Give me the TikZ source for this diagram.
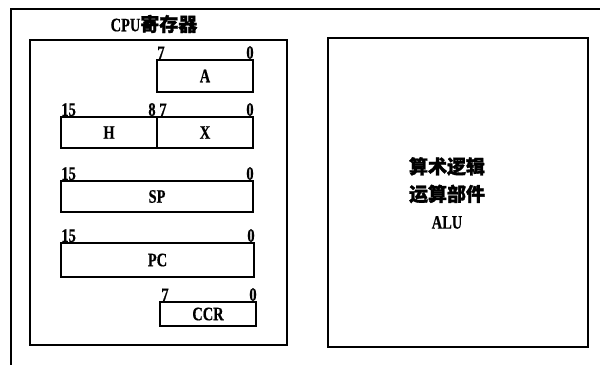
\documentclass[tikz,border=0pt]{standalone}
\usepackage{fontspec}
\setmainfont{Liberation Serif}
\newfontfamily\lab{Liberation Serif Bold}[FakeStretch=0.76, FakeBold=0.6]
\newfontfamily\cjk[FakeBold=1.5]{Noto Sans CJK SC}
\newcommand\cjkbold{\bfseries\cjk}
\tikzset{
  frame/.style={draw=black, line width=1.6pt},
  reg/.style={draw=black, line width=1.6pt, inner sep=0pt, font=\lab\fontsize{19}{19}\selectfont},
  bitl/.style={inner sep=0pt, font=\lab\fontsize{19}{19}\selectfont, anchor=south west},
  bitr/.style={inner sep=0pt, font=\lab\fontsize{19}{19}\selectfont, anchor=south east},
}
\begin{document}
\begin{tikzpicture}[x=1pt, y=-1pt]
\useasboundingbox (0,0) rectangle (600,367);
\fill[white] (0,0) rectangle (600,367);
% outer frame
\coordinate (otr) at (600,9);
\coordinate (otl) at (11,9);
\coordinate (obl) at (11,365);
\draw[line width=1.8pt] (otr) -- (otl) -- (obl);
% CPU box
\node[frame, minimum width=257, minimum height=305, inner sep=0pt] (cpu) at (158.5,192.5) {};
\node[font=\lab\fontsize{19}{19}\selectfont, inner sep=0pt] (title) at (154,24) {CPU{\cjkbold 寄存器}};
% A
\node[reg, minimum width=96, minimum height=32] (A) at (205,76) {A};
\node[bitl] (a7) at ([xshift=1pt]A.north west) {7};
\node[bitr] (a0) at (A.north east) {0};
% H X
\node[reg, minimum width=96, minimum height=31] (H) at (109,132.5) {H};
\node[reg, minimum width=96, minimum height=31] (X) at (205,132.5) {X};
\node[bitl] (h15) at ([xshift=1pt]H.north west) {15};
\node[bitr] (h8) at ([xshift=-2pt]H.north east) {8};
\node[bitl] (x7) at ([xshift=3pt]X.north west) {7};
\node[bitr] (x0) at (X.north east) {0};
% SP
\node[reg, minimum width=192, minimum height=31] (SP) at (157,196.5) {SP};
\node[bitl] (sp15) at ([xshift=1pt]SP.north west) {15};
\node[bitr] (sp0) at (SP.north east) {0};
% PC
\node[reg, minimum width=193, minimum height=34] (PC) at (157.5,260) {PC};
\node[bitl] (pc15) at ([xshift=1pt]PC.north west) {15};
\node[bitr] (pc0) at (PC.north east) {0};
% CCR
\node[reg, minimum width=96, minimum height=24] (CCR) at (208,314) {CCR};
\node[bitl] (c7) at ([xshift=2pt]CCR.north west) {7};
\node[bitr] (c0) at (CCR.north east) {0};
% ALU
\node[frame, minimum width=260, minimum height=309, inner sep=0pt] (alu) at (458,192.5) {};
\node[align=center, inner sep=0pt, font=\lab\fontsize{19}{27.5}\selectfont] (alut) at (447,193) {{\cjkbold 算术逻辑}\\{\cjkbold 运算部件}\\ALU};
\end{tikzpicture}
\end{document}
